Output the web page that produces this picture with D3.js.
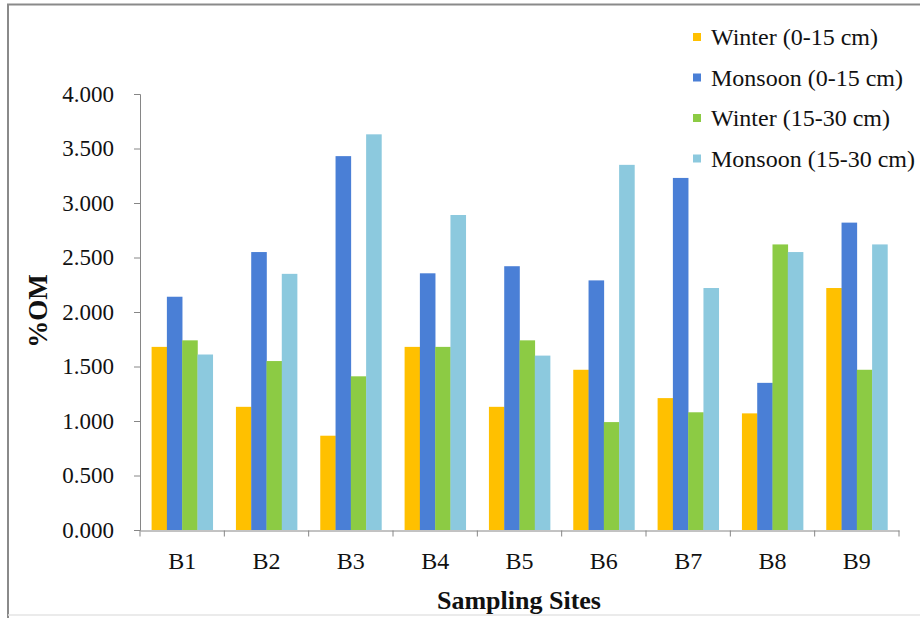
<!DOCTYPE html>
<html><head><meta charset="utf-8">
<script src="https://cdn.jsdelivr.net/npm/d3@7"></script>
<style>body{margin:0;background:#fff}svg{display:block}</style>
</head><body><svg id="c" width="920" height="618"></svg>
<script>
const categories = ["B1","B2","B3","B4","B5","B6","B7","B8","B9"];
const seriesNames = ["Winter (0-15 cm)","Monsoon (0-15 cm)","Winter (15-30 cm)","Monsoon (15-30 cm)"];
const winter0_15 = [1.68,1.13,0.865,1.68,1.13,1.47,1.21,1.07,2.22];
const monsoon0_15 = [2.14,2.55,3.43,2.355,2.42,2.29,3.23,1.35,2.82];
const winter15_30 = [1.74,1.55,1.41,1.68,1.74,0.99,1.08,2.62,1.47];
const monsoon15_30 = [1.61,2.35,3.63,2.89,1.60,3.35,2.22,2.55,2.62];
const yTicks = [0,0.5,1,1.5,2,2.5,3,3.5,4];
const colors = ["#FFC000","#4A7FD6","#8CCB44","#8CC9DE"];

const series = [winter0_15, monsoon0_15, winter15_30, monsoon15_30];
const svg = d3.select("#c");
const serif = "Liberation Serif, DejaVu Serif, serif";

// border
svg.append("path").attr("d","M8,618 L8,4.5 L920,4.5").attr("fill","none").attr("stroke","#8a8a8a").attr("stroke-width",2);
svg.append("line").attr("x1",8).attr("x2",920).attr("y1",615).attr("y2",615).attr("stroke","#e4e4e4").attr("stroke-width",1.5);

const x0 = d3.scaleBand().domain(categories).range([140,899]).paddingInner(0.275).paddingOuter(0.1375);
const x1 = d3.scaleBand().domain(d3.range(4)).range([0,x0.bandwidth()]);
const y = d3.scaleLinear().domain([0,4]).range([530,94]);

const g = svg.append("g");
categories.forEach((c,i)=>{
  series.forEach((s,j)=>{
    g.append("rect").attr("x",x0(c)+x1(j)).attr("y",y(s[i])).attr("width",x1.bandwidth()+0.3)
      .attr("height",y(0)-y(s[i])).attr("fill",colors[j]);
  });
});

// y axis
const ya = svg.append("g").attr("transform","translate(140,0)")
  .call(d3.axisLeft(y).tickValues(yTicks).tickSize(6).tickPadding(20).tickFormat(d3.format(".3f")));
ya.select(".domain").attr("stroke","#868686").attr("d","M-6,94.5H0.5V530.5H-6");
ya.selectAll(".tick line").attr("stroke","#868686");
ya.selectAll("text").style("font-family",serif).style("font-size","23px").attr("fill","#111");

// x axis
const xa = svg.append("g").attr("transform","translate(0,530.5)")
  .call(d3.axisBottom(x0).tickSize(0).tickPadding(21));
xa.select(".domain").attr("stroke","#868686");
categories.concat(["end"]).forEach((c,i)=>{
  const xx = 140 + i*(759/9);
  xa.append("line").attr("x1",xx).attr("x2",xx).attr("y1",0).attr("y2",6).attr("stroke","#868686");
});
xa.selectAll("text").style("font-family",serif).style("font-size","24px").attr("fill","#111");

// axis titles
svg.append("text").attr("transform","translate(47,311) rotate(-90)").attr("text-anchor","middle")
  .style("font-family",serif).style("font-weight","bold").style("font-size","27px").attr("fill","#111").text("%OM");
svg.append("text").attr("x",519).attr("y",609).attr("text-anchor","middle")
  .style("font-family",serif).style("font-weight","bold").style("font-size","26px").attr("fill","#111").text("Sampling Sites");

// legend
const leg = svg.append("g");
seriesNames.forEach((n,j)=>{
  const cy = 37 + j*40.5;
  leg.append("rect").attr("x",693).attr("y",cy-4).attr("width",8).attr("height",8).attr("fill",colors[j]);
  leg.append("text").attr("x",711).attr("y",cy+8).style("font-family",serif).style("font-size","24px")
    .attr("fill","#111").text(n);
});
</script></body></html>
